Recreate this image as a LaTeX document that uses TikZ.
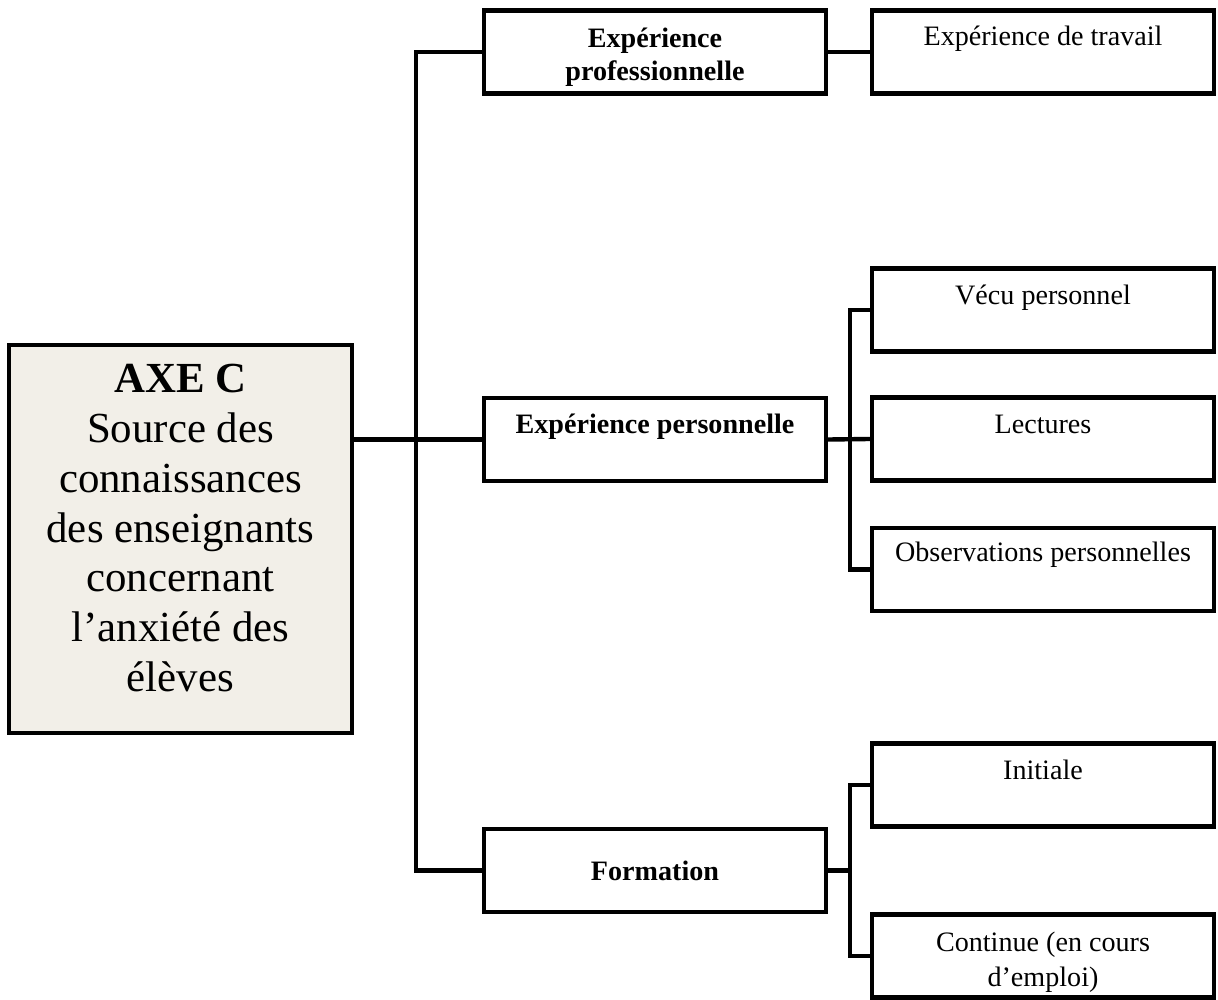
\documentclass[tikz,border=0pt]{standalone}
\usepackage{fontspec}
\setmainfont{Liberation Serif}
\definecolor{axefill}{RGB}{242,239,232}
\tikzset{
  box/.style={draw=black, line width=2.4pt, fill=white, inner sep=0pt,
              minimum width=6.84cm, minimum height=1.66cm},
  mainbox/.style={box, fill=axefill, minimum width=6.86cm, minimum height=7.76cm},
  link/.style={draw=black, line width=2.5pt},
  txt/.style={font=\fontsize{16}{18.8}\selectfont, inner sep=0pt, anchor=base},
  btxt/.style={txt, font=\fontsize{16}{18.8}\selectfont\bfseries},
  maintxt/.style={inner sep=0pt, anchor=base, font=\fontsize{24.4}{28.3}\selectfont}
}
\newcommand{\stack}[1]{\begin{tabular}[t]{@{}c@{}}#1\end{tabular}}
\begin{document}
\begin{tikzpicture}[x=0.02cm, y=-0.02cm]
  \useasboundingbox (0,0) rectangle (1218,1000);

  % boxes
  \node[mainbox] (main) at (180.5,539) {};
  \node[box] (pro)     at (655,52)    {};
  \node[box] (travail) at (1043,52)   {};
  \node[box] (perso)   at (655,439.5) {};
  \node[box] (vecu)    at (1043,310)  {};
  \node[box] (lect)    at (1043,439)  {};
  \node[box] (obs)     at (1043,569.5){};
  \node[box] (form)    at (655,870.5) {};
  \node[box] (init)    at (1043,785)  {};
  \node[box] (cont)    at (1043,956)  {};

  % texts
  \node[maintxt] (mainT) at ([yshift=-1.0cm]main.north)
    {\stack{\textbf{AXE C}\\Source des\\connaissances\\des enseignants\\concernant\\l’anxiété des\\élèves}};
  \node[btxt] (proT) at ([yshift=-0.78cm]pro.north) {\stack{Expérience\\professionnelle}};
  \node[txt] (travailT) at ([yshift=-0.74cm]travail.north) {Expérience de travail};
  \node[btxt] (persoT) at ([yshift=-0.76cm]perso.north) {Expérience personnelle};
  \node[txt] (vecuT) at ([yshift=-0.76cm]vecu.north) {Vécu personnel};
  \node[txt] (lectT) at ([yshift=-0.76cm]lect.north) {Lectures};
  \node[txt] (obsT) at ([yshift=-0.72cm]obs.north) {Observations personnelles};
  \node[btxt] (formT) at ([yshift=-1.08cm]form.north) {Formation};
  \node[txt] (initT) at ([yshift=-0.76cm]init.north) {Initiale};
  \node[txt, font=\fontsize{16}{19.8}\selectfont] (contT) at ([yshift=-0.78cm]cont.north)
    {\stack{Continue (en cours\\d’emploi)}};

  % trunks
  \coordinate (tk) at (416,0);
  \coordinate (sk) at (850,0);

  % connectors
  \draw[link] (main.east |- perso.west) -- (perso.west);
  \draw[link] (pro.west) -- (pro.west -| tk) -- (form.west -| tk) -- (form.west);
  \draw[link] (pro.east) -- (travail.west);
  \draw[link] (perso.east) -- (lect.west);
  \draw[link] (vecu.west) -- (vecu.west -| sk) -- (obs.west -| sk) -- (obs.west);
  \draw[link] (form.east) -- (form.east -| sk);
  \draw[link] (init.west) -- (init.west -| sk) -- (cont.west -| sk) -- (cont.west);
\end{tikzpicture}
\end{document}
